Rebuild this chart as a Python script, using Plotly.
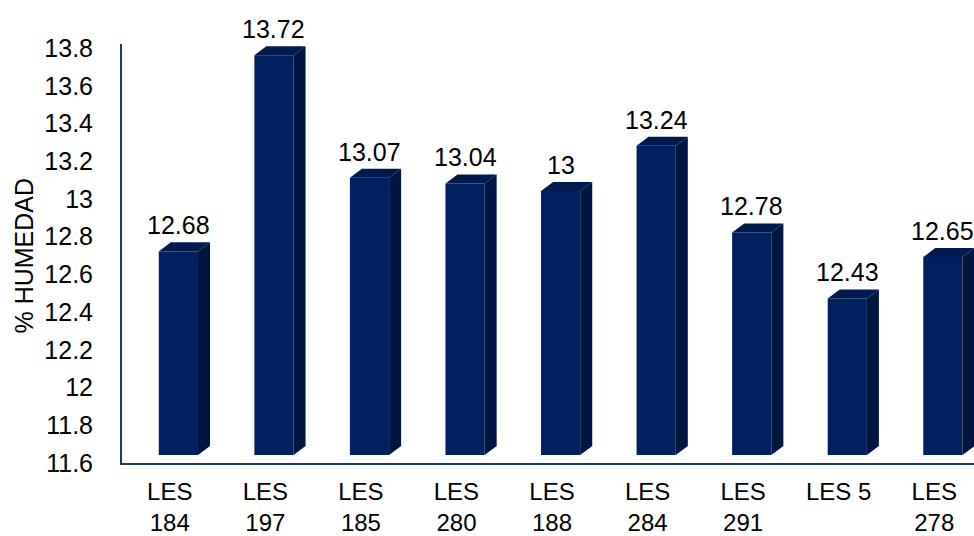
import plotly.graph_objects as go

# Moisture content per line
categories = ["LES<br>184", "LES<br>197", "LES<br>185", "LES<br>280", "LES<br>188",
              "LES<br>284", "LES<br>291", "LES 5", "LES<br>278"]
humedad = [12.68, 13.72, 13.07, 13.04, 13, 13.24, 12.78, 12.43, 12.65]
y_ticks = [11.6, 11.8, 12.0, 12.2, 12.4, 12.6, 12.8, 13.0, 13.2, 13.4, 13.6, 13.8]
y_tick_text = ["11.6", "11.8", "12", "12.2", "12.4", "12.6", "12.8", "13", "13.2",
               "13.4", "13.6", "13.8"]

AXIS_MIN = 11.6
AXIS_MAX = 13.8216

# pseudo-3D column geometry (data units)
BAR_OFFSET = 0.09     # front face centre relative to category centre
BAR_WIDTH = 0.41
DEPTH_X = 0.126
DEPTH_Y = 0.048
LIFT = 0.042          # front face sits slightly above the floor line

FRONT = "#002060"
SIDE = "#001640"
TOP = "#001a4f"
AXIS_COLOR = "#1f3864"
FONT = "Liberation Sans, Arial, sans-serif"
FONT_SIZE = 25

xs = list(range(len(categories)))
fig = go.Figure()

fig.add_trace(go.Bar(
    x=[i + BAR_OFFSET for i in xs],
    y=[v - AXIS_MIN for v in humedad],
    base=AXIS_MIN + LIFT,
    width=BAR_WIDTH,
    marker=dict(color=FRONT, line=dict(width=0)),
    hoverinfo="skip",
))

shapes = []
annotations = []
for i, v in zip(xs, humedad):
    xl = i + BAR_OFFSET - BAR_WIDTH / 2
    xr = i + BAR_OFFSET + BAR_WIDTH / 2
    bot = AXIS_MIN + LIFT
    top = v + LIFT
    side = (f"M {xr} {bot} L {xr + DEPTH_X} {bot + DEPTH_Y} "
            f"L {xr + DEPTH_X} {top + DEPTH_Y} L {xr} {top} Z")
    cap = (f"M {xl} {top} L {xl + DEPTH_X} {top + DEPTH_Y} "
           f"L {xr + DEPTH_X} {top + DEPTH_Y} L {xr} {top} Z")
    shapes.append(dict(type="path", path=side, xref="x", yref="y",
                       fillcolor=SIDE, line=dict(width=0), layer="above"))
    shapes.append(dict(type="path", path=cap, xref="x", yref="y",
                       fillcolor=TOP, line=dict(width=0), layer="above"))
    annotations.append(dict(
        x=i + BAR_OFFSET, y=top + DEPTH_Y, xref="x", yref="y",
        text=f"{v:g}", showarrow=False, yanchor="bottom", yshift=1,
        font=dict(family=FONT, size=FONT_SIZE, color="#000000"),
    ))

annotations.append(dict(
    text="% HUMEDAD", textangle=-90, showarrow=False,
    xref="paper", yref="y", x=-98 / 852, y=(AXIS_MIN + 13.8) / 2,
    xanchor="center", yanchor="middle",
    font=dict(family=FONT, size=FONT_SIZE, color="#000000"),
))

fig.update_layout(
    width=974, height=536,
    margin=dict(l=122, r=0, t=44, b=73),
    paper_bgcolor="white", plot_bgcolor="white",
    showlegend=False,
    shapes=shapes,
    annotations=annotations,
    xaxis=dict(
        range=[-0.5, 8.416], automargin=False,
        tickmode="array", tickvals=xs, ticktext=categories,
        showgrid=False, zeroline=False,
        showline=True, linecolor=AXIS_COLOR, linewidth=2,
        ticks="outside", ticklen=6, tickcolor="rgba(0,0,0,0)",
        tickfont=dict(family=FONT, size=24, color="#000000"),
    ),
    yaxis=dict(
        range=[AXIS_MIN, AXIS_MAX], automargin=False,
        tickmode="array", tickvals=y_ticks, ticktext=y_tick_text,
        showgrid=False, zeroline=False,
        showline=True, linecolor=AXIS_COLOR, linewidth=2,
        ticks="outside", ticklen=22, tickcolor="rgba(0,0,0,0)",
        tickfont=dict(family=FONT, size=FONT_SIZE, color="#000000"),
    ),
)

fig.write_html("out.html")
